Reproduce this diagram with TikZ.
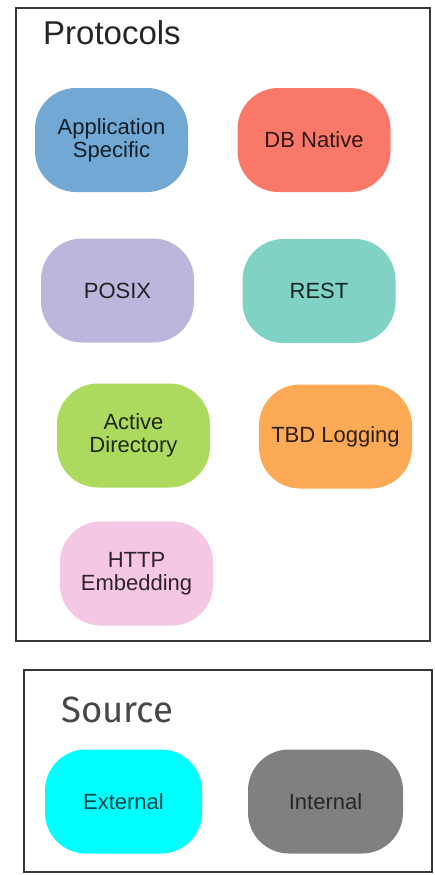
\documentclass[tikz,border=0pt]{standalone}
\usepackage{fontspec}
\setmainfont{Liberation Sans}
\newfontfamily\srcfont{Fira Sans}
\begin{document}
\begin{tikzpicture}[x=1pt,y=-1pt,
  frame/.style={draw=black!78,line width=1.6pt},
  pill/.style={rounded corners=41pt,minimum width=153pt,minimum height=104pt,
    align=center,inner sep=0pt,font=\fontsize{22}{23}\selectfont},
]
\useasboundingbox[fill=white] (0,0) rectangle (434,875);
\definecolor{cApp}{RGB}{114,168,212}
\definecolor{cDB}{RGB}{250,120,106}
\definecolor{cPosix}{RGB}{187,183,220}
\definecolor{cRest}{RGB}{128,210,196}
\definecolor{cAD}{RGB}{172,218,94}
\definecolor{cTBD}{RGB}{252,170,86}
\definecolor{cHTTP}{RGB}{246,198,229}
\definecolor{cExt}{RGB}{0,255,255}
\definecolor{cInt}{RGB}{128,128,128}

% Protocols frame
\node[frame,minimum width=414pt,minimum height=633pt,inner sep=0pt] (protframe) at (223,324.5) {};
\node[anchor=base west,inner sep=0pt,font=\fontsize{33}{35}\selectfont,text=black!85] (prottitle) at (43,45) {Protocols};

\node[pill,fill=cApp,text=cApp!18!black] (app) at (111.5,140) {Application\\Specific};
\node[pill,fill=cDB,text=cDB!18!black] (db) at (314,140) {DB Native};
\node[pill,fill=cPosix,text=cPosix!18!black] (posix) at (117.5,290.5) {POSIX};
\node[pill,fill=cRest,text=cRest!18!black] (rest) at (319,291) {REST};
\node[pill,fill=cAD,text=cAD!18!black] (ad) at (133.5,435.5) {Active\\Directory};
\node[pill,fill=cTBD,text=cTBD!18!black] (tbd) at (335.5,436.5) {TBD Logging};
\node[pill,fill=cHTTP,text=cHTTP!18!black] (http) at (136.5,573.5) {HTTP\\Embedding};

% Source frame
\node[frame,minimum width=408pt,minimum height=202pt,inner sep=0pt] (srcframe) at (228,771) {};
\node[anchor=base west,inner sep=0pt,font=\srcfont\fontsize{36.5}{38}\selectfont,text=black!72] (srctitle) at (61,722) {Source};

\node[pill,fill=cExt,minimum width=157pt,text=teal!55!black] (ext) at (123.5,801.5) {External};
\node[pill,fill=cInt,minimum width=155pt,text=black!85] (int) at (325.5,801.5) {Internal};
\end{tikzpicture}
\end{document}
